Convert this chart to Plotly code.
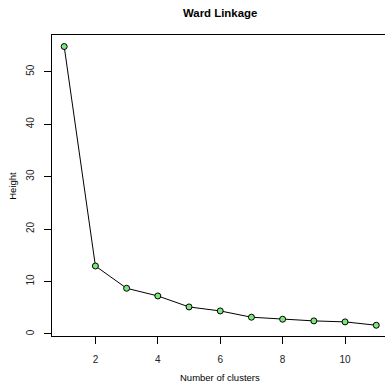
import plotly.graph_objects as go

clusters = [1, 2, 3, 4, 5, 6, 7, 8, 9, 10, 11]
heights = [54.8, 12.95, 8.7, 7.24, 5.14, 4.38, 3.18, 2.8, 2.48, 2.29, 1.65]
x_ticks = [2, 4, 6, 8, 10]
y_ticks = [0, 10, 20, 30, 40, 50]

FONT = "Liberation Sans, Arial, Helvetica, sans-serif"

fig = go.Figure()
fig.add_trace(go.Scatter(
    x=clusters, y=heights, mode="lines+markers",
    line=dict(color="black", width=1),
    marker=dict(size=6, color="#7be87b", line=dict(color="black", width=1)),
    showlegend=False, hoverinfo="skip",
))

fig.update_layout(
    width=385, height=382,
    margin=dict(l=52, r=0, t=35, b=46),
    paper_bgcolor="white", plot_bgcolor="white",
    font=dict(family=FONT, size=9.5, color="black"),
    xaxis=dict(
        range=[0.609, 11.28], tickvals=x_ticks, ticktext=[str(v) for v in x_ticks],
        showgrid=False, zeroline=False, showline=True, linecolor="black", linewidth=1,
        mirror=True, ticks="outside", ticklen=7, tickcolor="black", tickwidth=1,
        tickfont=dict(size=10, color="#222"), ticklabelstandoff=7,
    ),
    yaxis=dict(
        range=[-0.4, 57.0], tickvals=y_ticks, ticktext=[str(v) for v in y_ticks],
        showgrid=False, zeroline=False, showline=True, linecolor="black", linewidth=1,
        mirror=False, ticks="outside", ticklen=7, tickcolor="black", tickwidth=1,
        tickangle=-90, tickfont=dict(size=10, color="#222"), ticklabelstandoff=6,
    ),
    annotations=[
        dict(text="<b>Ward Linkage</b>", xref="paper", yref="paper",
             x=(220 - 52) / 333, y=1 + (35 - 12.7) / 301, xanchor="center", yanchor="middle",
             showarrow=False, font=dict(size=11.4, family=FONT)),
        dict(text="Number of clusters", xref="paper", yref="paper",
             x=(220 - 52) / 333, y=-(377 - 336) / 301, xanchor="center", yanchor="middle",
             showarrow=False, font=dict(size=9.5, family=FONT)),
        dict(text="Height", xref="paper", yref="paper",
             x=-(52 - 12.3) / 333, y=0.5, xanchor="center", yanchor="middle",
             textangle=-90, showarrow=False, font=dict(size=9.5, family=FONT)),
    ],
)

fig.write_html(
    "out.html",
    config={"displayModeBar": False, "staticPlot": True},
    post_script="document.body.style.margin='0px';document.body.style.overflow='hidden';",
)
